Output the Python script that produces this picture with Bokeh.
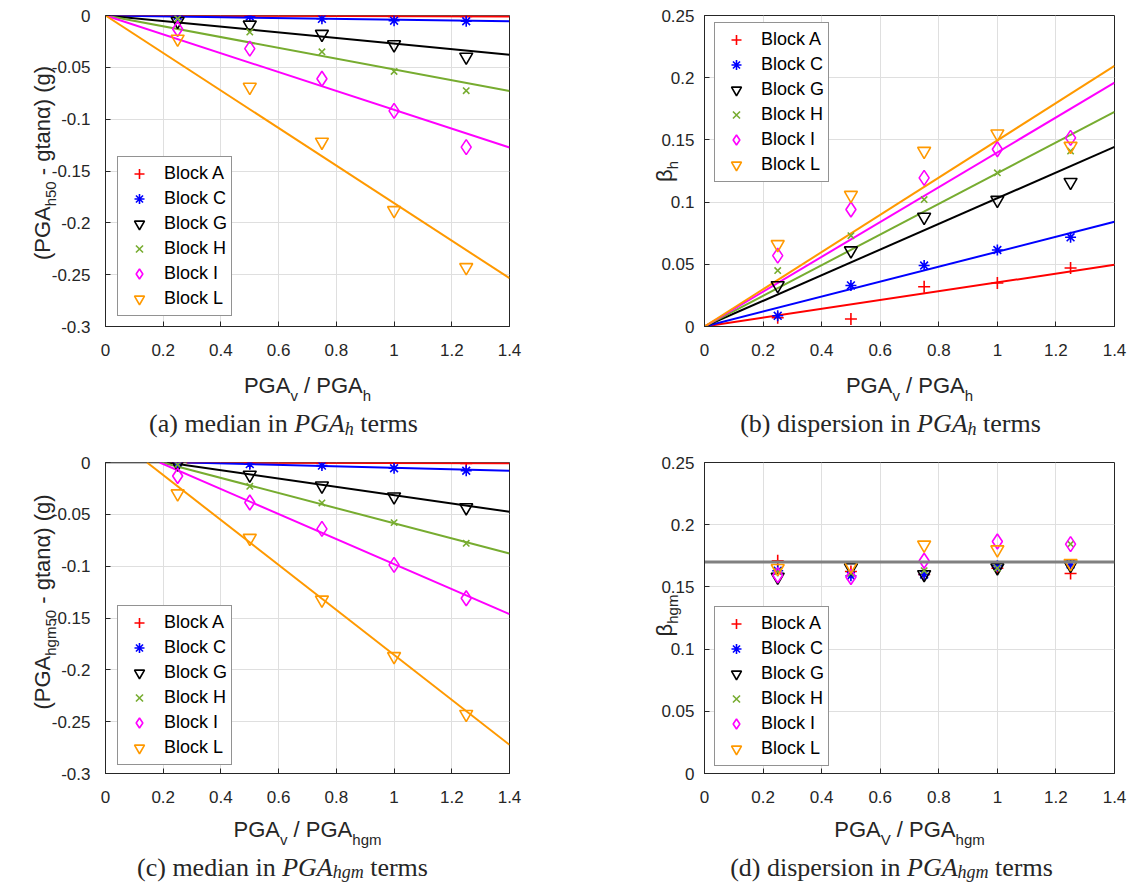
import math
from bokeh.plotting import figure
from bokeh.models import Range1d, Legend, LegendItem, FixedTicker, NumeralTickFormatter, ColumnDataSource
from bokeh.layouts import column, row
from bokeh.embed import file_html
from bokeh.resources import INLINE

# ---------------- data ----------------
x_ratio = [0.25, 0.5, 0.75, 1.0, 1.25]
block_names = ["Block A", "Block C", "Block G", "Block H", "Block I", "Block L"]
x_ticks = [0, 0.2, 0.4, 0.6, 0.8, 1.0, 1.2, 1.4]
y_ticks_median = [0, -0.05, -0.1, -0.15, -0.2, -0.25, -0.3]
y_ticks_disp = [0, 0.05, 0.1, 0.15, 0.2, 0.25]

# (a) median in PGA_h terms
med_h_A = [0.0, -0.0003, -0.0005, -0.0008, -0.001]
med_h_C = [-0.0002, -0.001, -0.0032, -0.005, -0.0055]
med_h_G = [-0.0055, -0.009, -0.018, -0.028, -0.040]
med_h_H = [-0.003, -0.016, -0.035, -0.054, -0.0725]
med_h_I = [-0.013, -0.032, -0.061, -0.092, -0.127]
med_h_L = [-0.0226, -0.069, -0.122, -0.188, -0.243]
med_h_slope = [-0.0007, -0.004, -0.027, -0.052, -0.091, -0.181]

# (b) dispersion in PGA_h terms
disp_h_A = [0.007, 0.006, 0.032, 0.035, 0.047]
disp_h_C = [0.0086, 0.033, 0.049, 0.0615, 0.0717]
disp_h_G = [0.033, 0.061, 0.088, 0.1016, 0.116]
disp_h_H = [0.045, 0.073, 0.102, 0.1235, 0.141]
disp_h_I = [0.057, 0.094, 0.1195, 0.1425, 0.1516]
disp_h_L = [0.066, 0.1056, 0.141, 0.155, 0.145]
disp_h_slope = [0.0354, 0.0601, 0.1031, 0.1232, 0.140, 0.1496]

# (c) median in PGA_hgm terms
med_hgm_A = [0.0, -0.0003, -0.0005, -0.0006, -0.0008]
med_hgm_C = [0.0, -0.0016, -0.003, -0.0055, -0.008]
med_hgm_G = [-0.001, -0.012, -0.0225, -0.033, -0.0434]
med_hgm_H = [-0.002, -0.023, -0.039, -0.058, -0.078]
med_hgm_I = [-0.013, -0.0386, -0.064, -0.0987, -0.131]
med_hgm_L = [-0.030, -0.073, -0.1325, -0.187, -0.2428]
med_hgm_x0 = [0.28, 0.283, 0.214, 0.196, 0.188, 0.144]
med_hgm_slope = [-0.0007, -0.00716, -0.0401, -0.0729, -0.1207, -0.2168]

# (d) dispersion in PGA_hgm terms
disp_hgm_A = [0.171, 0.1624, 0.160, 0.165, 0.1608]
disp_hgm_C = [0.163, 0.159, 0.160, 0.167, 0.168]
disp_hgm_G = [0.158, 0.1656, 0.160, 0.1656, 0.1675]
disp_hgm_H = [0.1624, 0.161, 0.163, 0.165, 0.1844]
disp_hgm_I = [0.1594, 0.158, 0.171, 0.1865, 0.1844]
disp_hgm_L = [0.165, 0.167, 0.1838, 0.180, 0.169]
disp_hgm_ref = 0.17

# ---------------- style ----------------
COLORS = ["#FF0000", "#0000FF", "#000000", "#77AC30", "#FF00FF", "#FF9900"]
MARKERS = ["cross", "asterisk", "inverted_triangle", "x", "diamond", "inverted_triangle"]
MSIZES = [12, 11, 13, 9, 15, 13]
AX = "#262626"
GRID = "#dfdfdf"
SANS = "Liberation Sans"
SERIF = "Liberation Serif"
X_MAX = 1.4
PAGE_W, PAGE_H = 1132, 883

W_SANS = {' ': .278, '(': .333, ')': .333, '-': .333, '.': .278, '/': .278, 'A': .667, 'B': .667,
          'C': .722, 'G': .778, 'P': .667, 'V': .667, 'a': .556, 'c': .5, 'g': .556, 'h': .556,
          'k': .5, 'l': .222, 'm': .833, 'n': .556, 'o': .556, 't': .278, 'v': .5, 'α': .578,
          'β': .575, '0': .556, '5': .556}
W_SERIF = {' ': .25, '(': .333, ')': .333, 'a': .444, 'b': .5, 'c': .444, 'd': .5, 'e': .444,
           'i': .278, 'm': .778, 'n': .5, 'o': .5, 'p': .5, 'r': .333, 's': .389, 't': .278}
W_SERIF_IT = {'P': .611, 'G': .722, 'A': .611, 'h': .5, 'g': .5, 'm': .722, ' ': .25}


def twidth(s, size, font, style):
    if font == SANS:
        tab = W_SANS
    elif style == "italic":
        tab = W_SERIF_IT
    else:
        tab = W_SERIF
    return sum(tab.get(c, 0.5) for c in s) * size


TXT = dict(x=[], y=[], text=[], size=[], font=[], style=[], angle=[])


def rich(pieces, X, Y, angle=0.0):
    """pieces: (text, size, shift, font, style); X, Y in page pixels (y down).
    angle 0: X centre, Y baseline.  angle pi/2: X baseline, Y centre."""
    total = sum(twidth(t, s, f, st) for t, s, sh, f, st in pieces)
    cur = X - total / 2 if angle == 0 else Y + total / 2
    for t, s, sh, f, st in pieces:
        body = t.strip()
        lead = twidth(t[:len(t) - len(t.lstrip())], s, f, st)
        if angle == 0:
            TXT["x"].append(cur + lead)
            TXT["y"].append(PAGE_H - (Y + sh))
            cur += twidth(t, s, f, st)
        else:
            TXT["x"].append(X + sh)
            TXT["y"].append(PAGE_H - (cur - lead))
            cur -= twidth(t, s, f, st)
        TXT["text"].append(body)
        TXT["size"].append(f"{s}px")
        TXT["font"].append(f)
        TXT["style"].append(st)
        TXT["angle"].append(angle)


def make_fig(w, h, ml, mr, mt, mb, yr, yticks, ystand):
    p = figure(width=w, height=h, x_range=Range1d(0, X_MAX), y_range=Range1d(*yr),
               output_backend="svg", toolbar_location=None,
               min_border_left=ml, min_border_right=mr, min_border_top=mt, min_border_bottom=mb)
    p.outline_line_color = AX
    p.outline_line_width = 1
    xt = FixedTicker(ticks=x_ticks)
    yt = FixedTicker(ticks=yticks)
    for ax, tk in ((p.xaxis[0], xt), (p.yaxis[0], yt)):
        ax.ticker = tk
        ax.formatter = NumeralTickFormatter(format="0.[00]")
        ax.major_label_text_font = SANS
        ax.major_label_text_font_size = "17px"
        ax.major_label_text_color = AX
        ax.axis_line_color = AX
        ax.major_tick_line_color = AX
        ax.major_tick_in = 5
        ax.major_tick_out = 0
        ax.minor_tick_in = 0
        ax.minor_tick_out = 0
    p.xaxis.major_label_standoff = 17
    p.yaxis.major_label_standoff = ystand
    p.xgrid.ticker = xt
    p.ygrid.ticker = yt
    p.xgrid.grid_line_color = GRID
    p.ygrid.grid_line_color = GRID
    return p


def add_legend(p, rends, vx, vy):
    items = [LegendItem(label=n, renderers=[r]) for n, r in zip(block_names, rends)]
    leg = Legend(items=items, location=(vx, vy), label_text_font=SANS, label_text_font_size="18px",
                 label_text_color="#000000", glyph_width=34, glyph_height=25, spacing=0, padding=4,
                 label_standoff=8, label_height=20, border_line_color=AX, border_line_width=1,
                 background_fill_color="white", background_fill_alpha=1.0, margin=0)
    p.add_layout(leg)


def scatter_all(p, series):
    rends = []
    for ys, c, m, s in zip(series, COLORS, MARKERS, MSIZES):
        r = p.scatter(x_ratio, ys, marker=m, size=s, line_color=c, line_width=1.6, fill_alpha=0)
        rends.append(r)
    return rends


# ---------------- panel (a) ----------------
pa = make_fig(600, 450, 105, 91, 15, 124, (-0.3, 0), y_ticks_median, 15)
pa.line([0, X_MAX], [0, 0], line_color="#808080", line_width=2)
for s, c in zip(med_h_slope, COLORS):
    pa.line([0, X_MAX], [0, s * X_MAX], line_color=c, line_width=2)
ra = scatter_all(pa, [med_h_A, med_h_C, med_h_G, med_h_H, med_h_I, med_h_L])
add_legend(pa, ra, 12, 10)

# ---------------- panel (b) ----------------
pb = make_fig(532, 450, 104, 18, 15, 123, (0, 0.25), y_ticks_disp, 10)
for s, c in zip(disp_h_slope, COLORS):
    pb.line([0, X_MAX], [0, s * X_MAX], line_color=c, line_width=2)
rb = scatter_all(pb, [disp_h_A, disp_h_C, disp_h_G, disp_h_H, disp_h_I, disp_h_L])
add_legend(pb, rb, 10, 144)

# ---------------- panel (c) ----------------
pc = make_fig(600, 433, 105, 91, 12, 110, (-0.3, 0), y_ticks_median, 15)
pc.line([0, X_MAX], [0, 0], line_color="#808080", line_width=2)
for x0, s, c in zip(med_hgm_x0, med_hgm_slope, COLORS):
    pc.line([x0, X_MAX], [0, s * (X_MAX - x0)], line_color=c, line_width=2)
rc = scatter_all(pc, [med_hgm_A, med_hgm_C, med_hgm_G, med_hgm_H, med_hgm_I, med_hgm_L])
add_legend(pc, rc, 12, 8)

# ---------------- panel (d) ----------------
pd_ = make_fig(532, 433, 104, 18, 12, 110, (0, 0.25), y_ticks_disp, 10)
rd = scatter_all(pd_, [disp_hgm_A, disp_hgm_C, disp_hgm_G, disp_hgm_H, disp_hgm_I, disp_hgm_L])
pd_.line([0, X_MAX], [disp_hgm_ref, disp_hgm_ref], line_color="#808080", line_width=3)
add_legend(pd_, rd, 10, 7)

# ---------------- texts outside the plot frames ----------------
XL, SUB = 22, 15
rich([("PGA", XL, 0, SANS, "normal"), ("v", SUB, 10, SANS, "normal"),
      (" / PGA", XL, 0, SANS, "normal"), ("h", SUB, 10, SANS, "normal")], 307, 385)
rich([("PGA", XL, 0, SANS, "normal"), ("v", SUB, 10, SANS, "normal"),
      (" / PGA", XL, 0, SANS, "normal"), ("h", SUB, 10, SANS, "normal")], 909, 385)
rich([("PGA", XL, 0, SANS, "normal"), ("v", SUB, 10, SANS, "normal"),
      (" / PGA", XL, 0, SANS, "normal"), ("hgm", SUB, 10, SANS, "normal")], 307, 829)
rich([("PGA", XL, 0, SANS, "normal"), ("V", SUB, 10, SANS, "normal"),
      (" / PGA", XL, 0, SANS, "normal"), ("hgm", SUB, 10, SANS, "normal")], 909, 829)
rich([("(PGA", XL, 0, SANS, "normal"), ("h50", SUB, 8, SANS, "normal"),
      (" - gtanα) (g)", XL, 0, SANS, "normal")], 42, 162.5, angle=math.pi / 2)
rich([("(PGA", XL, 0, SANS, "normal"), ("hgm50", SUB, 8, SANS, "normal"),
      (" - gtanα) (g)", XL, 0, SANS, "normal")], 42, 601.5, angle=math.pi / 2)
rich([("β", XL, 0, SANS, "normal"), ("h", SUB, 8, SANS, "normal")], 664, 171, angle=math.pi / 2)
rich([("β", XL, 0, SANS, "normal"), ("hgm", SUB, 8, SANS, "normal")], 664, 615, angle=math.pi / 2)
CAP, CSUB = 26, 18
rich([("(a) median in ", CAP, 0, SERIF, "normal"), ("PGA", CAP, 0, SERIF, "italic"),
      ("h", CSUB, 5, SERIF, "italic"), (" terms", CAP, 0, SERIF, "normal")], 283, 423)
rich([("(b) dispersion in ", CAP, 0, SERIF, "normal"), ("PGA", CAP, 0, SERIF, "italic"),
      ("h", CSUB, 5, SERIF, "italic"), (" terms", CAP, 0, SERIF, "normal")], 890, 423)
rich([("(c) median in ", CAP, 0, SERIF, "normal"), ("PGA", CAP, 0, SERIF, "italic"),
      ("hgm", CSUB, 4, SERIF, "italic"), (" terms", CAP, 0, SERIF, "normal")], 282, 867)
rich([("(d) dispersion in ", CAP, 0, SERIF, "normal"), ("PGA", CAP, 0, SERIF, "italic"),
      ("hgm", CSUB, 4, SERIF, "italic"), (" terms", CAP, 0, SERIF, "normal")], 891, 867)

ov = figure(width=PAGE_W, height=PAGE_H, x_range=Range1d(0, PAGE_W), y_range=Range1d(0, PAGE_H),
            output_backend="svg", toolbar_location=None, x_axis_location=None, y_axis_location=None,
            min_border=0, min_border_left=0, min_border_right=0, min_border_top=0, min_border_bottom=0)
ov.grid.visible = False
ov.outline_line_color = None
ov.background_fill_alpha = 0
ov.border_fill_alpha = 0
ov.text(x="x", y="y", text="text", source=ColumnDataSource(TXT), text_font="font",
        text_font_size="size", text_font_style="style", angle="angle", text_color=AX,
        text_align="left", text_baseline="alphabetic")
ov.margin = (-PAGE_H, 0, 0, 0)

layout = column(row(pa, pb), row(pc, pd_), ov)
open("out.html", "w").write(file_html(layout, INLINE))
